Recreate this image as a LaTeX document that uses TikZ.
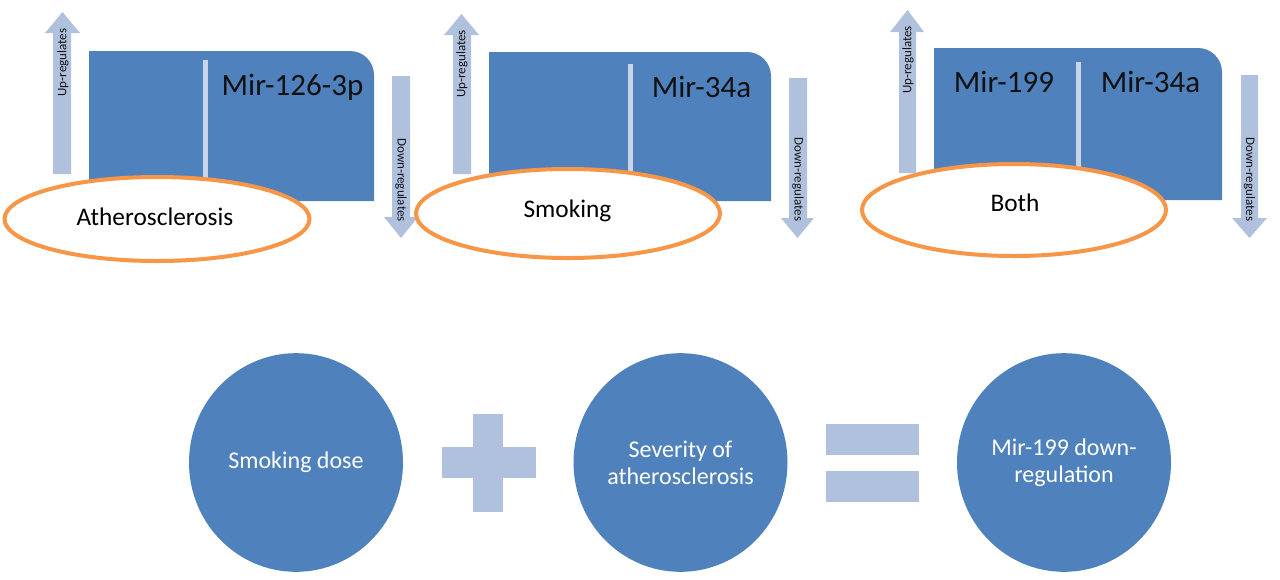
\documentclass[tikz,border=0pt]{standalone}
\usepackage{fontspec}
\setmainfont{Carlito}
\usepackage{graphicx}
\usetikzlibrary{shapes.geometric}
\definecolor{mblue}{HTML}{4F81BD}
\definecolor{mlight}{HTML}{B0C1DE}
\definecolor{mdiv}{HTML}{C8D4E9}
\definecolor{morange}{HTML}{F79646}
\definecolor{mtext}{HTML}{111111}
\tikzset{
  blockarrow/.style={fill=mlight, draw=none},
  panelrect/.style={fill=mblue, draw=none},
  divline/.style={draw=mdiv, line width=3.75pt},
  oval/.style={ellipse, draw=morange, line width=3pt, fill=white, inner sep=0pt},
  mirtext/.style={anchor=base, inner sep=0pt, text=mtext, font=\fontsize{23.25}{28}\selectfont},
  ovaltext/.style={anchor=base, inner sep=0pt, text=black, font=\fontsize{19}{23}\selectfont},
  regtext/.style={inner sep=0pt, text=mtext, font=\fontsize{9.75}{11}\selectfont},
  disc/.style={ellipse, fill=mblue, draw=none, inner sep=0pt, minimum width=160.5pt, minimum height=164pt,
    text=white, align=center, font=\fontsize{18}{20.25}\selectfont},
  opfill/.style={fill=mlight, draw=none}
}
\begin{document}
\begin{tikzpicture}[x=0.75pt, y=-0.75pt]
\useasboundingbox (0,0) rectangle (1280,579);
\fill[white] (0,0) rectangle (1280,579);

% ---------- Panel 1 ----------
\fill[blockarrow] (53,174) -- (53,33) -- (45,33) -- (62.5,12) -- (80,33) -- (71,33) -- (71,174) -- cycle;
\fill[blockarrow] (392,76) -- (392,217) -- (384,217) -- (401,238) -- (418,217) -- (410,217) -- (410,76) -- cycle;
\fill[panelrect] (89,201) -- (89,51) [rounded corners=18pt] -- (374,51) [sharp corners] -- (374,201) -- cycle;
\coordinate (d1t) at (205,60);
\coordinate (d1b) at (205,200);
\draw[divline] (d1t) -- (d1b);
\node[oval, minimum width=228.75pt, minimum height=63pt] (e1) at (157,219) {};
\node[mirtext] (m1) at (292.5,95) {Mir-126-3p};
\node[ovaltext] (t1) at (155,225) {Atherosclerosis};
\node[regtext, rotate=90] (u1) at (63,62.5) {Up-regulates};
\node[regtext, rotate=-90] (w1) at (401,180) {Down-regulates};

% ---------- Panel 2 ----------
\fill[blockarrow] (453,174) -- (453,35) -- (444,35) -- (461.5,14) -- (479,35) -- (471,35) -- (471,174) -- cycle;
\fill[blockarrow] (789,78) -- (789,218) -- (781,218) -- (797.5,238) -- (814,218) -- (807,218) -- (807,78) -- cycle;
\fill[panelrect] (489,201) -- (489,52) [rounded corners=18pt] -- (771,52) [sharp corners] -- (771,201) -- cycle;
\coordinate (d2t) at (630,64);
\coordinate (d2b) at (630,200);
\draw[divline] (d2t) -- (d2b);
\node[oval, minimum width=228pt, minimum height=66.75pt] (e2) at (568,213.5) {};
\node[mirtext] (m2) at (701.5,97) {Mir-34a};
\node[ovaltext] (t2) at (567.5,217) {Smoking};
\node[regtext, rotate=90] (u2) at (462,64) {Up-regulates};
\node[regtext, rotate=-90] (w2) at (798,179.5) {Down-regulates};

% ---------- Panel 3 ----------
\fill[blockarrow] (899,173) -- (899,32) -- (890,32) -- (907.5,10) -- (924,32) -- (916,32) -- (916,173) -- cycle;
\fill[blockarrow] (1241,75) -- (1241,218) -- (1232,218) -- (1249.5,238) -- (1267,218) -- (1258,218) -- (1258,75) -- cycle;
\fill[panelrect] (934,200) -- (934,48) [rounded corners=18pt] -- (1222,48) [sharp corners] -- (1222,200) -- cycle;
\coordinate (d3t) at (1078.5,62);
\coordinate (d3b) at (1078.5,199);
\draw[divline] (d3t) -- (d3b);
\node[oval, minimum width=228pt, minimum height=69pt] (e3) at (1014,210) {};
\node[mirtext] (m3a) at (1004,92) {Mir-199};
\node[mirtext] (m3b) at (1150.5,92) {Mir-34a};
\node[ovaltext] (t3) at (1015,211) {Both};
\node[regtext, rotate=90] (u3) at (908,60) {Up-regulates};
\node[regtext, rotate=-90] (w3) at (1249.5,179.5) {Down-regulates};

% ---------- Bottom equation ----------
\node[disc] (c1) at (296,462.5) {Smoking dose};
\node[disc] (c2) at (680.5,462.5) {Severity of\\atherosclerosis};
\node[disc] (c3) at (1064,462.5) {Mir-199 down-\\regulation};
% plus
\fill[opfill] (473,414) rectangle (503,512);
\fill[opfill] (442,447) rectangle (536,478);
% equals
\fill[opfill] (826,424) rectangle (919,455);
\fill[opfill] (826,471) rectangle (919,502);
\end{tikzpicture}
\end{document}
